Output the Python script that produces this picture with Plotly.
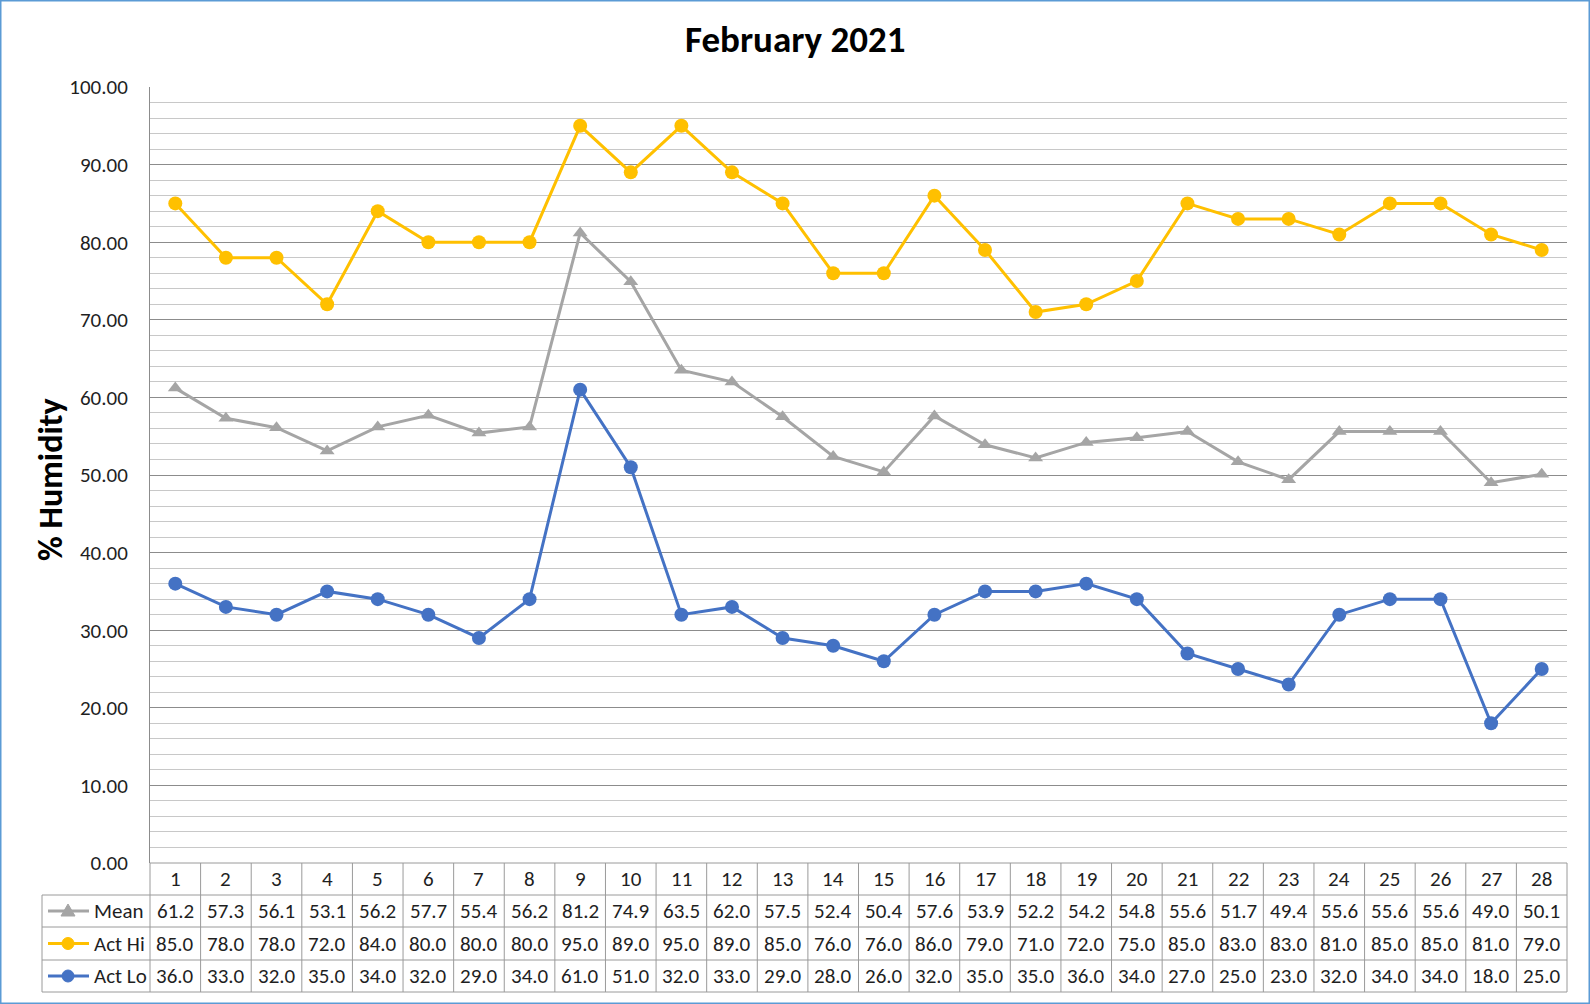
import plotly.graph_objects as go

# ---- data ----
days = list(range(1, 29))
mean_vals = [61.2, 57.3, 56.1, 53.1, 56.2, 57.7, 55.4, 56.2, 81.2, 74.9, 63.5, 62.0, 57.5, 52.4,
             50.4, 57.6, 53.9, 52.2, 54.2, 54.8, 55.6, 51.7, 49.4, 55.6, 55.6, 55.6, 49.0, 50.1]
act_hi = [85.0, 78.0, 78.0, 72.0, 84.0, 80.0, 80.0, 80.0, 95.0, 89.0, 95.0, 89.0, 85.0, 76.0,
          76.0, 86.0, 79.0, 71.0, 72.0, 75.0, 85.0, 83.0, 83.0, 81.0, 85.0, 85.0, 81.0, 79.0]
act_lo = [36.0, 33.0, 32.0, 35.0, 34.0, 32.0, 29.0, 34.0, 61.0, 51.0, 32.0, 33.0, 29.0, 28.0,
          26.0, 32.0, 35.0, 35.0, 36.0, 34.0, 27.0, 25.0, 23.0, 32.0, 34.0, 34.0, 18.0, 25.0]
series_names = ["Mean", "Act Hi", "Act Lo"]
series_colors = ["#A5A5A5", "#FFC000", "#4472C4"]
series_symbols = ["triangle-up", "circle", "circle"]
series_values = [mean_vals, act_hi, act_lo]

title_text = "February 2021"
y_title = "% Humidity"

# ---- layout geometry (pixels) ----
W, H = 1590, 1004
L, R, T, B = 150, 23, 87, 141
PW, PH = W - L - R, H - T - B
FONT = "Carlito, Calibri, Lato, sans-serif"
GRID_MAJ = "#8c8c8c"
GRID_MIN = "#c8c8c8"
TBL = "#9a9a9a"
TXT = "#1f1f1f"
FS = 21


def pxx(p):
    return (p - L) / PW


def pxy(p):
    return (H - B - p) / PH


fig = go.Figure()
for name, vals, col, sym in zip(series_names, series_values, series_colors, series_symbols):
    fig.add_trace(go.Scatter(
        x=days, y=vals, name=name, mode="lines+markers",
        line=dict(color=col, width=3),
        marker=dict(color=col, size=14 if sym == "circle" else 13, symbol=sym),
        showlegend=False, hoverinfo="x+y+name",
    ))

shapes = []
annotations = []

# table rows (pixel y edges)
x_axis_py = H - B
row_edges = [x_axis_py, 895, 927, 960, 992]
table_left = 42
n = len(days)

# horizontal table lines
shapes.append(dict(type="line", xref="paper", yref="paper", x0=0, x1=1,
                   y0=pxy(row_edges[0]), y1=pxy(row_edges[0]), line=dict(color=TBL, width=1)))
for e in row_edges[1:]:
    shapes.append(dict(type="line", xref="paper", yref="paper", x0=pxx(table_left), x1=1,
                       y0=pxy(e), y1=pxy(e), line=dict(color=TBL, width=1)))
# vertical table lines at category boundaries
for k in range(n + 1):
    xp = k / n
    shapes.append(dict(type="line", xref="paper", yref="paper", x0=xp, x1=xp,
                       y0=pxy(row_edges[0]), y1=pxy(row_edges[-1]), line=dict(color=TBL, width=1)))
shapes.append(dict(type="line", xref="paper", yref="paper", x0=pxx(table_left), x1=pxx(table_left),
                   y0=pxy(row_edges[1]), y1=pxy(row_edges[-1]), line=dict(color=TBL, width=1)))

# header row: day numbers
hdr_c = (row_edges[0] + row_edges[1]) / 2
for d in days:
    annotations.append(dict(x=d, y=pxy(hdr_c), xref="x", yref="paper", text=str(d),
                            showarrow=False, xanchor="center", yanchor="middle",
                            font=dict(family=FONT, size=FS, color=TXT)))

# data rows
for i, (name, vals, col, sym) in enumerate(zip(series_names, series_values, series_colors, series_symbols)):
    rc = (row_edges[i + 1] + row_edges[i + 2]) / 2
    for d, v in zip(days, vals):
        annotations.append(dict(x=d, y=pxy(rc), xref="x", yref="paper", text=f"{v:.1f}",
                                showarrow=False, xanchor="center", yanchor="middle",
                                font=dict(family=FONT, size=FS, color=TXT)))
    annotations.append(dict(x=pxx(92), y=pxy(rc), xref="paper", yref="paper", text=name,
                            showarrow=False, xanchor="left", yanchor="middle",
                            font=dict(family=FONT, size=FS, color=TXT)))
    # legend key
    shapes.append(dict(type="line", xref="paper", yref="paper", x0=pxx(48), x1=pxx(89),
                       y0=pxy(rc), y1=pxy(rc), line=dict(color=col, width=3)))
    cx = 68
    if sym == "circle":
        r = 6
        shapes.append(dict(type="circle", xref="paper", yref="paper",
                           x0=pxx(cx - r), x1=pxx(cx + r), y0=pxy(rc - r), y1=pxy(rc + r),
                           fillcolor=col, line=dict(color=col, width=1)))
    else:
        path = (f"M {pxx(cx - 7)},{pxy(rc + 5)} L {pxx(cx + 7)},{pxy(rc + 5)} "
                f"L {pxx(cx)},{pxy(rc - 7)} Z")
        shapes.append(dict(type="path", xref="paper", yref="paper", path=path,
                           fillcolor=col, line=dict(color=col, width=1)))

# outer chart border
shapes.append(dict(type="rect", xref="paper", yref="paper",
                   x0=pxx(0.75), x1=pxx(W - 0.75), y0=pxy(H - 0.75), y1=pxy(0.75),
                   line=dict(color="#5B9BD5", width=1.5)))

# titles
annotations.append(dict(x=pxx(795), y=pxy(40), xref="paper", yref="paper", text=f"<b>{title_text}</b>",
                        showarrow=False, xanchor="center", yanchor="middle",
                        font=dict(family=FONT, size=37, color="#000000")))
annotations.append(dict(x=pxx(50), y=pxy(480), xref="paper", yref="paper", text=f"<b>{y_title}</b>",
                        showarrow=False, xanchor="center", yanchor="middle", textangle=-90,
                        font=dict(family=FONT, size=34, color="#000000")))

fig.update_layout(
    width=W, height=H,
    margin=dict(l=L, r=R, t=T, b=B, pad=0),
    paper_bgcolor="white", plot_bgcolor="white",
    shapes=shapes, annotations=annotations,
    xaxis=dict(range=[0.5, n + 0.5], showticklabels=False, showgrid=False, zeroline=False,
               ticks="", showline=False, fixedrange=True),
    yaxis=dict(range=[0, 100], dtick=10, tickformat=".2f", showgrid=True, gridcolor=GRID_MAJ,
               gridwidth=1, zeroline=False, showline=True, linecolor=GRID_MAJ, linewidth=1,
               ticks="", ticklabelstandoff=17,
               tickfont=dict(family=FONT, size=FS, color=TXT),
               minor=dict(dtick=2, showgrid=True, gridcolor=GRID_MIN, gridwidth=1),
               fixedrange=True),
)

fig.write_html("out.html", config={"displayModeBar": False},
               post_script="document.body.style.margin='0';document.body.style.overflow='hidden';")
